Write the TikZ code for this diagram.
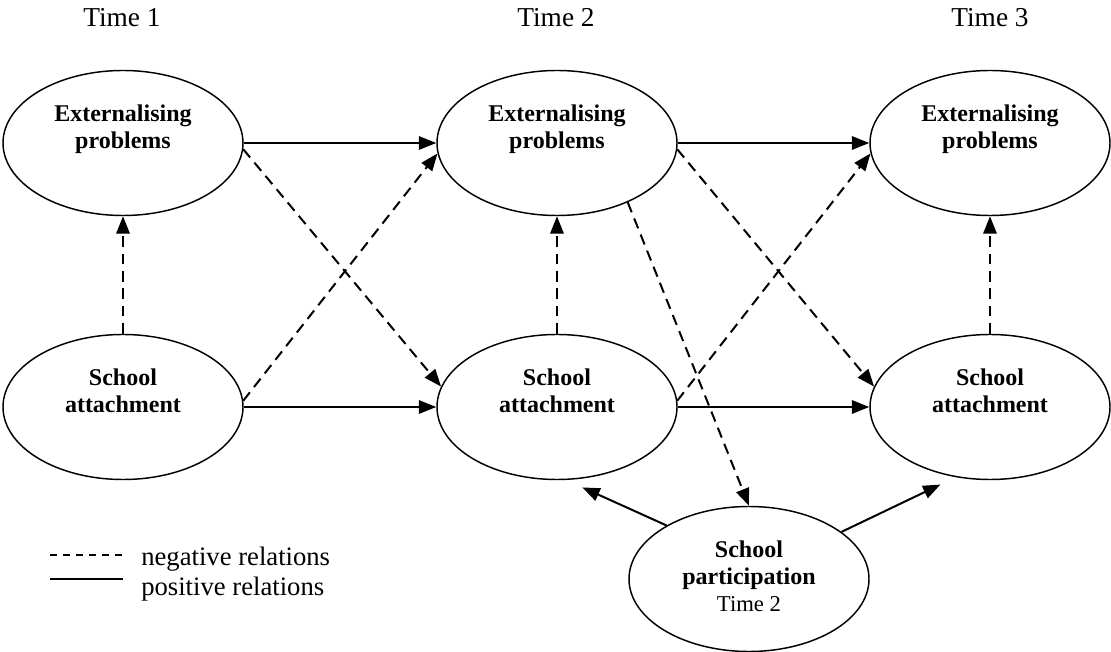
\documentclass[tikz,border=0pt]{standalone}
\usepackage{fontspec}
\setmainfont{Liberation Serif}
\usetikzlibrary{shapes.geometric,arrows.meta}
\begin{document}
\begin{tikzpicture}[x=0.75pt,y=-0.75pt,
  ell/.style={ellipse, draw, line width=1.1pt, minimum width=180pt, minimum height=108.75pt,
    inner sep=0pt, align=center, font=\fontsize{18}{20.25}\selectfont\bfseries},
  posrel/.style={line width=1.5pt, -{Triangle[length=13pt,width=10pt]}},
  negrel/.style={posrel, dash pattern=on 8pt off 5pt},
  timelbl/.style={font=\fontsize{20.5}{24}\selectfont, anchor=base, inner sep=0pt},
  legtxt/.style={font=\fontsize{20}{24}\selectfont, anchor=base west, inner sep=0pt}]
\useasboundingbox (0,0) rectangle (1111,652);

% time labels
\node[timelbl] (T1) at (122,27) {Time 1};
\node[timelbl] (T2) at (556,27) {Time 2};
\node[timelbl] (T3) at (990,27) {Time 3};

% ellipses
\node[ell] (E1) at (123,143) {\strut Externalising\\\strut problems\\\strut};
\node[ell] (E2) at (557,143) {\strut Externalising\\\strut problems\\\strut};
\node[ell] (E3) at (990,143) {\strut Externalising\\\strut problems\\\strut};
\node[ell] (S1) at (123,407) {\strut School\\\strut attachment\\\strut};
\node[ell] (S2) at (557,407) {\strut School\\\strut attachment\\\strut};
\node[ell] (S3) at (990,407) {\strut School\\\strut attachment\\\strut};
\node[ell] (P) at (749,579) {\strut School\\\strut participation\\\strut{\mdseries\fontsize{17}{20.25}\selectfont Time 2}};

% positive relations
\draw[posrel] (E1.east) -- (E2.west);
\draw[posrel] (E2.east) -- (E3.west);
\draw[posrel] (S1.east) -- (S2.west);
\draw[posrel] (S2.east) -- (S3.west);
\draw[posrel, shorten >=13.5pt] (P.147) -- (S2.-83);
\draw[posrel, shorten >=12.75pt] (P.27) -- (S3.-116);

% negative relations
\draw[negrel] (S1.north) -- (E1.south);
\draw[negrel] (S2.north) -- (E2.south);
\draw[negrel] (S3.north) -- (E3.south);
\draw[negrel] (E1.-3) -- (S2.170);
\draw[negrel] (S1.3) -- (E2.-175);
\draw[negrel] (E2.-3) -- (S3.170);
\draw[negrel] (S2.3) -- (E3.-175);
\draw[negrel] (E2.-40) -- (P.north);

% legend
\coordinate (LnA) at (50,555);
\coordinate (LnB) at (123,555);
\coordinate (LpA) at (50,579);
\coordinate (LpB) at (123,579);
\draw[line width=1.2pt, dash pattern=on 5.25pt off 4.5pt] (LnA) -- (LnB);
\draw[line width=1.6pt] (LpA) -- (LpB);
\node[legtxt] (Ln) at (141,565) {negative relations};
\node[legtxt] (Lp) at (141,595) {positive relations};
\end{tikzpicture}
\end{document}
